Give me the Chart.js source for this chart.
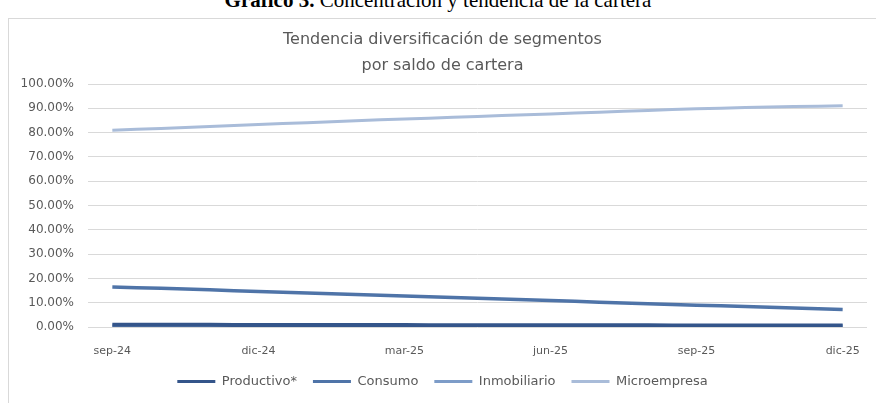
<!DOCTYPE html>
<html>
<head>
<meta charset="utf-8">
<script src="https://cdn.jsdelivr.net/npm/chart.js@4.4.1/dist/chart.umd.min.js"></script>
<style>
    html, body { margin: 0; padding: 0; background: #fff; }
    body { width: 876px; height: 403px; position: relative; overflow: hidden; }
    #cabecera {
        position: absolute; left: 0; width: 876px; top: -12px;
        text-align: center; font-family: 'Liberation Serif', 'DejaVu Serif', serif;
        font-size: 21px; color: #000; white-space: nowrap;
    }
    #marco {
        position: absolute; left: 8px; top: 18px; width: 880px; height: 400px;
        border: 1px solid #d9d9d9; box-sizing: border-box;
    }
    #grafico { position: absolute; left: 0; top: 0; }
</style>
</head>
<body>
<div id="cabecera"><b>Gráfico 3.</b> Concentración y tendencia de la cartera</div>
<div id="marco"></div>
<canvas id="grafico" width="876" height="403"></canvas>
<script>
// Datos del gráfico (mensuales, etiqueta cada trimestre)
const meses = ['sep-24', 'oct-24', 'nov-24', 'dic-24', 'ene-25', 'feb-25', 'mar-25', 'abr-25',
               'may-25', 'jun-25', 'jul-25', 'ago-25', 'sep-25', 'oct-25', 'nov-25', 'dic-25'];
const productivo   = [0.9, 0.9, 0.9, 0.8, 0.8, 0.8, 0.8, 0.7, 0.7, 0.7, 0.7, 0.7, 0.6, 0.6, 0.6, 0.6];
const consumo      = [16.5, 15.9, 15.3, 14.6, 14.0, 13.4, 12.8, 12.1, 11.5, 10.9, 10.2, 9.6, 9.0, 8.4, 7.8, 7.2];
const inmobiliario = [0.5, 0.5, 0.5, 0.5, 0.5, 0.5, 0.5, 0.5, 0.5, 0.5, 0.5, 0.5, 0.5, 0.5, 0.5, 0.5];
const microempresa = [81.0, 81.7, 82.5, 83.3, 84.1, 84.9, 85.6, 86.3, 87.0, 87.7, 88.4, 89.1, 89.8, 90.3, 90.7, 91.0];
const ticksY = [0, 10, 20, 30, 40, 50, 60, 70, 80, 90, 100];

const fuente = "'DejaVu Sans', 'Open Sans', sans-serif";
const gris = '#595959';

function serie(nombre, datos, color, ancho) {
    return {
        label: nombre,
        data: datos,
        borderColor: color,
        backgroundColor: color,
        borderWidth: ancho,
        pointRadius: 0,
        tension: 0.3,
        fill: false
    };
}

document.addEventListener('DOMContentLoaded', function() {
    const ctx = document.getElementById('grafico').getContext('2d');
    new Chart(ctx, {
        type: 'line',
        data: {
            labels: meses,
            datasets: [
                serie('Productivo*', productivo, '#34558a', 4),
                serie('Consumo', consumo, '#4f74a8', 3.5),
                serie('Inmobiliario', inmobiliario, '#7d9cc8', 3),
                serie('Microempresa', microempresa, '#a9bcd9', 3)
            ]
        },
        options: {
            responsive: false,
            animation: false,
            layout: { padding: { left: 18, right: 9, top: 27, bottom: 5 } },
            scales: {
                x: {
                    offset: true,
                    grid: { display: false },
                    border: { display: false },
                    afterFit: function(axis) { axis.height = 32; },
                    ticks: {
                        autoSkip: false,
                        maxRotation: 0,
                        color: gris,
                        font: { family: fuente, size: 11 },
                        padding: 10,
                        callback: function(v, i) { return i % 3 === 0 ? meses[i] : ''; }
                    }
                },
                y: {
                    min: 0,
                    max: 100,
                    afterBuildTicks: function(axis) { axis.ticks = ticksY.map(v => ({ value: v })); },
                    afterFit: function(axis) { axis.width = 70; },
                    grid: { color: '#d9d9d9', drawTicks: false },
                    border: { display: false },
                    ticks: {
                        color: gris,
                        padding: 14,
                        font: { family: fuente, size: 12 },
                        callback: function(v) { return v.toFixed(2) + '%'; }
                    }
                }
            },
            plugins: {
                title: {
                    display: true,
                    text: ['Tendencia diversificación de segmentos', 'por saldo de cartera'],
                    color: gris,
                    font: { family: fuente, size: 16, weight: 'normal', lineHeight: 1.625 },
                    padding: { top: 0, bottom: 5 }
                },
                legend: {
                    position: 'bottom',
                    labels: {
                        color: gris,
                        font: { family: fuente, size: 13 },
                        boxWidth: 38,
                        boxHeight: 3,
                        padding: 16,
                        generateLabels: function(chart) {
                            return chart.data.datasets.map((d, i) => ({
                                text: d.label,
                                fillStyle: d.borderColor,
                                strokeStyle: d.borderColor,
                                lineWidth: 0,
                                fontColor: gris,
                                datasetIndex: i
                            }));
                        }
                    }
                },
                tooltip: { enabled: false }
            }
        }
    });
});
</script>
</body>
</html>
